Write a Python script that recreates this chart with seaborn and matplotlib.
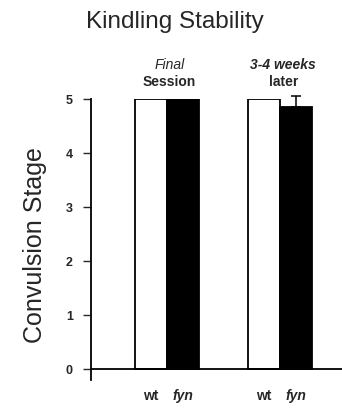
import seaborn as sns
import matplotlib.pyplot as plt
import matplotlib.transforms as mtransforms
import pandas as pd

# values
sessions = ['Final Session', '3-4 weeks later']
genotypes = ['wt', 'fyn']
wt_stage = [5.0, 5.0]
fyn_stage = [5.0, 4.85]
fyn_err = [0.0, 0.21]

df = pd.DataFrame({
    'session': sessions * 2,
    'genotype': ['wt'] * 2 + ['fyn'] * 2,
    'stage': wt_stage + fyn_stage,
})

sns.set_style('white')
plt.rcParams['font.family'] = ['Liberation Sans', 'DejaVu Sans']

fig = plt.figure(figsize=(3.42, 4.08), dpi=100)
ax = fig.add_axes([0.266, 1 - 380 / 408, 0.734, (380 - 99) / 408])

sns.barplot(data=df, x='session', y='stage', hue='genotype', hue_order=genotypes,
            palette={'wt': 'white', 'fyn': 'black'}, edgecolor='black', linewidth=1.3,
            width=0.57, gap=0, errorbar=None, legend=False, ax=ax)

wt_bars, fyn_bars = ax.containers[0], ax.containers[1]

# error bar only upward, on the fyn bars
for bar, e in zip(fyn_bars, fyn_err):
    if e > 0:
        cx = bar.get_x() + bar.get_width() / 2
        ax.errorbar(cx, bar.get_height(), yerr=[[0], [e]], fmt='none', ecolor='black',
                    elinewidth=1.1, capsize=3.5, capthick=1.1, clip_on=False)

ax.set_xlim(-0.673, 1.549)
ax.set_ylim(-0.2, 5)
ax.set_yticks(range(6))
ax.set_yticklabels([str(i) for i in range(6)])
for lab in ax.get_yticklabels():
    lab.set_fontsize(9)
    lab.set_fontweight('bold')
ax.tick_params(axis='y', direction='out', length=6, width=1, pad=7, left=True)

ax.set_xticks([])
ax.set_xlabel('')
ax.set_ylabel('')

trans = mtransforms.blended_transform_factory(ax.transData, fig.transFigure)

# wt / fyn labels under each bar
for bars, name in [(wt_bars, 'wt'), (fyn_bars, 'fyn')]:
    for bar in bars:
        cx = bar.get_x() + bar.get_width() / 2
        ax.text(cx, 1 - 396 / 408, name, transform=trans, ha='center', va='center',
                fontsize=10, fontweight='bold',
                style='italic' if name == 'fyn' else 'normal')

for s in ['top', 'right']:
    ax.spines[s].set_visible(False)
ax.spines['bottom'].set_position(('data', 0))
for s in ['bottom', 'left']:
    ax.spines[s].set_linewidth(1.3)
    ax.spines[s].set_color('black')

# group labels above the bars
ax.text(0.02, 1 - 65 / 408, 'Final', transform=trans, ha='center', va='center',
        fontsize=10, style='italic')
ax.text(0.02, 1 - 82 / 408, 'Session', transform=trans, ha='center', va='center',
        fontsize=10, fontweight='bold')
ax.text(1.03, 1 - 65 / 408, '3-4 weeks', transform=trans, ha='center', va='center',
        fontsize=10, style='italic', fontweight='bold')
ax.text(1.03, 1 - 82 / 408, 'later', transform=trans, ha='center', va='center',
        fontsize=10, fontweight='bold')

fig.text(0.512, 1 - 22 / 408, 'Kindling Stability', ha='center', va='center', fontsize=17.5)
fig.text(0.102, 1 - 245 / 408, 'Convulsion Stage', ha='center', va='center',
         rotation=90, fontsize=18)

fig.savefig('out.png', dpi=100)
